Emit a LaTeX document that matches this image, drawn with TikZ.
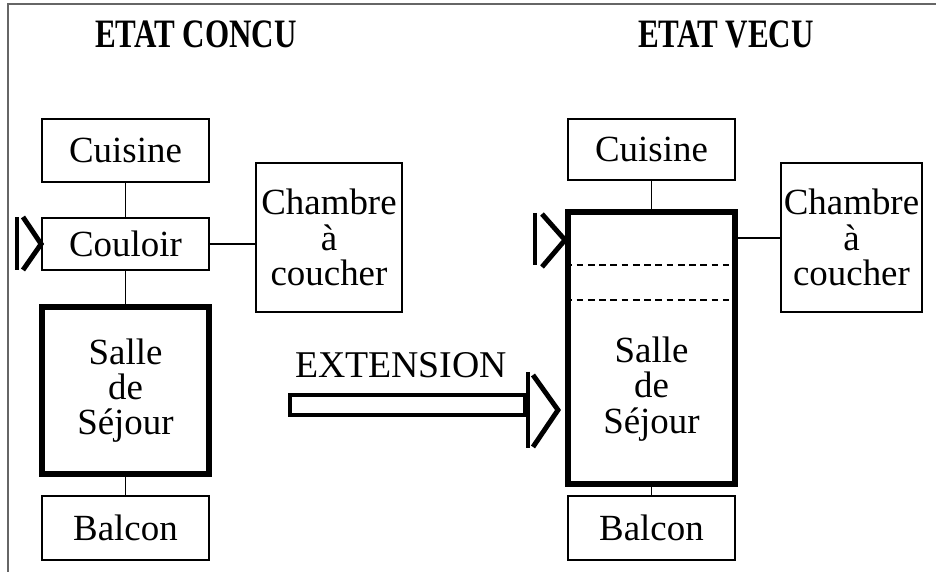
\documentclass[tikz,border=0pt]{standalone}
\usepackage{fontspec}
\setmainfont{Liberation Serif}
\usepackage{tikz}
\usetikzlibrary{positioning,calc}
\newcommand{\titretxt}[1]{\scalebox{1.04}[1.35]{#1}}

\begin{document}
\begin{tikzpicture}[font=\fontsize{21}{20}\selectfont,
  piece/.style={draw, line width=1pt, minimum width=3.34cm, inner sep=0pt, align=center},
  grande/.style={piece, line width=3pt},
  lien/.style={line width=1pt},
  entree/.style={line width=2.8pt},
  titre/.style={font=\fontsize{17}{17}\selectfont\bfseries}]
\useasboundingbox (0,0) rectangle (18.72,11.44);
\draw[gray!80!black, line width=1.2pt] (0.16,0) -- (0.16,11.36) -- (18.72,11.36);

% plan tel que concu
\node[titre] (titreC) at (3.92,10.76) {\titretxt{ETAT CONCU}};
\node[piece, minimum height=1.26cm] (cuisineC) at (2.51,8.43) {Cuisine};
\node[piece, minimum height=1.04cm] (couloirC) at (2.51,6.56) {Couloir};
\node[grande, minimum height=3.34cm] (sejourC) at (2.51,3.63) {Salle\\de\\S\'ejour};
\node[piece, minimum height=1.28cm] (balconC) at (2.51,0.88) {Balcon};
\node[piece, minimum width=2.92cm, minimum height=2.98cm] (chambreC) at (6.58,6.69) {Chambre\\\`a\\coucher};
\draw[lien] (cuisineC) -- (couloirC);
\draw[lien] (couloirC) -- (sejourC);
\draw[lien] (sejourC) -- (balconC);
\draw[lien] (couloirC.east) -- (couloirC.east -| chambreC.west);
% entree
\draw[entree] (0.34,7.10) -- (0.34,6.04);
\draw[entree] (0.46,7.10) -- (couloirC.west) -- (0.46,6.04);

% extension
\node[font=\fontsize{21.5}{20}\selectfont] (ext) at (8.02,4.14) {EXTENSION};
\draw[line width=2pt] (5.80,3.14) rectangle (10.50,3.54);
\draw[entree] (10.56,4.00) -- (10.56,2.48);
\draw[entree] (10.66,3.94) -- (11.16,3.24) -- (10.66,2.50);

% plan tel que vecu
\node[titre] (titreV) at (14.52,10.76) {\titretxt{ETAT VECU}};
\node[piece, minimum height=1.22cm] (cuisineV) at (13.03,8.45) {Cuisine};
\node[grande, minimum height=5.44cm] (sejourV) at (13.03,4.48) {};
\node (texteV) at (13.03,3.66) [align=center] {Salle\\de\\S\'ejour};
\node[piece, minimum height=1.28cm] (balconV) at (13.03,0.88) {Balcon};
\node[piece, minimum width=2.82cm, minimum height=2.98cm] (chambreV) at (17.03,6.69) {Chambre\\\`a\\coucher};
\draw[lien] (cuisineV) -- (sejourV);
\draw[lien] (sejourV) -- (balconV);
\draw[lien] (sejourV.east |- 0,6.68) -- (chambreV.west |- 0,6.68);
\draw[lien, dash pattern=on 3.8pt off 2.6pt] ([yshift=-1.12cm]sejourV.north west) -- ([yshift=-1.12cm]sejourV.north east);
\draw[lien, dash pattern=on 3.8pt off 2.6pt] ([yshift=-1.82cm]sejourV.north west) -- ([yshift=-1.82cm]sejourV.north east);
% entree
\draw[entree] (10.70,7.18) -- (10.70,6.14);
\draw[entree] (10.84,7.16) -- (11.30,6.64) -- (10.84,6.10);
\end{tikzpicture}
\end{document}
